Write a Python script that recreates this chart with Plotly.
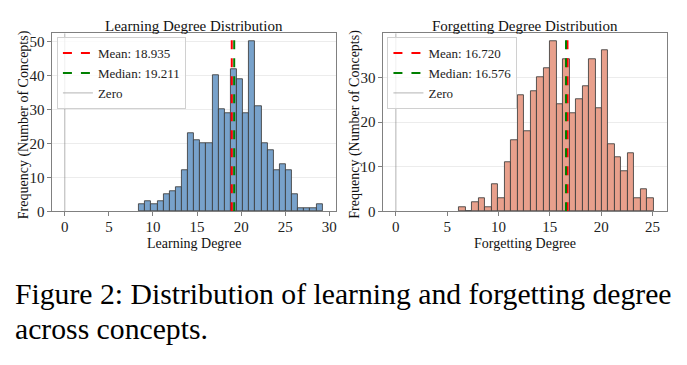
import numpy as np
import plotly.graph_objects as go

# ---------------- data ----------------
learn_counts = [2, 3, 2, 3, 5, 6, 7, 12, 23, 21, 20, 20, 40, 30, 29, 42, 39, 29, 50, 31,
                20, 18, 12, 14, 12, 5, 1, 1, 1, 2]
learn_range = [8.43, 29.24]
learn_mean = 18.935
learn_median = 19.211

forget_counts = [1, 0, 2, 3, 1, 6, 3, 11, 16, 26, 18, 27, 30, 32, 38, 24, 34, 22, 25, 28,
                 34, 23, 36, 15, 12, 9, 13, 3, 5, 3]
forget_range = [6.18, 25.13]
forget_mean = 16.720
forget_median = 16.576

learn_xticks = [0, 5, 10, 15, 20, 25, 30]
learn_yticks = [0, 10, 20, 30, 40, 50]
forget_xticks = [0, 5, 10, 15, 20, 25]
forget_yticks = [0, 10, 20, 30]

W, H = 687, 365
SERIF = "Liberation Serif, Times New Roman, serif"

def bins(rng, counts):
    edges = np.linspace(rng[0], rng[1], len(counts) + 1)
    centers = (edges[:-1] + edges[1:]) / 2
    width = edges[1] - edges[0]
    return centers, width

fig = go.Figure()

panels = [
    dict(counts=learn_counts, rng=learn_range, mean=learn_mean, median=learn_median,
         color="#78A2CB", xa="x", ya="y", legend="legend",
         xticks=learn_xticks, yticks=learn_yticks,
         xrange=[-1.46, 30.70], yrange=[0, 52.5],
         dom=[52 / W, 336 / W], title="Learning Degree Distribution", xtitle="Learning Degree"),
    dict(counts=forget_counts, rng=forget_range, mean=forget_mean, median=forget_median,
         color="#E8A08C", xa="x2", ya="y2", legend="legend2",
         xticks=forget_xticks, yticks=forget_yticks,
         xrange=[-1.26, 26.39], yrange=[0, 39.9],
         dom=[383.5 / W, 667.7 / W], title="Forgetting Degree Distribution", xtitle="Forgetting Degree"),
]

ydom = [1 - 216 / H, 1 - 34 / H]

annotations = []
for i, p in enumerate(panels):
    centers, width = bins(p["rng"], p["counts"])
    fig.add_trace(go.Bar(x=centers, y=p["counts"], width=width,
                         marker=dict(color=p["color"], line=dict(color="rgba(60,60,60,0.85)", width=1)),
                         xaxis=p["xa"], yaxis=p["ya"], showlegend=False))
    ytop = p["yrange"][1]
    fig.add_trace(go.Scatter(x=[p["mean"], p["mean"]], y=[0, ytop], mode="lines",
                             line=dict(color="red", width=2, dash="dash"),
                             name=f"Mean: {p['mean']:.3f}", xaxis=p["xa"], yaxis=p["ya"],
                             legend=p["legend"]))
    fig.add_trace(go.Scatter(x=[p["median"], p["median"]], y=[0, ytop], mode="lines",
                             line=dict(color="green", width=2, dash="dash"),
                             name=f"Median: {p['median']:.3f}", xaxis=p["xa"], yaxis=p["ya"],
                             legend=p["legend"]))
    fig.add_trace(go.Scatter(x=[0, 0], y=[0, ytop], mode="lines",
                             line=dict(color="rgba(128,128,128,0.6)", width=1),
                             name="Zero", xaxis=p["xa"], yaxis=p["ya"], legend=p["legend"]))

    sfx = "" if i == 0 else "2"
    axcommon = dict(showline=True, linecolor="#808080", linewidth=1, mirror=True,
                    ticks="outside", ticklen=3.5, tickcolor="#808080",
                    tickfont=dict(family=SERIF, size=15, color="#222"), zeroline=False)
    fig.update_layout(**{
        "xaxis" + sfx: dict(domain=p["dom"], range=p["xrange"], tickvals=p["xticks"],
                            showgrid=False, anchor="y" + sfx, ticklabelstandoff=-2, **axcommon),
        "yaxis" + sfx: dict(domain=ydom, range=p["yrange"], tickvals=p["yticks"],
                            showgrid=True, gridcolor="#ececec", gridwidth=1,
                            anchor="x" + sfx, **axcommon),
    })
    cx = (p["dom"][0] + p["dom"][1]) / 2
    annotations.append(dict(text=p["title"], x=cx, y=1 - 27 / H, xref="paper", yref="paper",
                            showarrow=False, font=dict(family=SERIF, size=15, color="#111"),
                            xanchor="center", yanchor="middle"))
    annotations.append(dict(text=p["xtitle"], x=cx, y=1 - 249 / H, xref="paper", yref="paper",
                            showarrow=False, font=dict(family=SERIF, size=14, color="#111"),
                            xanchor="center", yanchor="middle"))
    ylx = (24 if i == 0 else 356) / W
    annotations.append(dict(text="Frequency (Number of Concepts)", x=ylx, y=1 - 127 / H,
                            xref="paper", yref="paper", showarrow=False, textangle=-90,
                            font=dict(family=SERIF, size=14, color="#111"),
                            xanchor="center", yanchor="middle"))

annotations.append(dict(text="Figure 2: Distribution of learning and forgetting degree",
                        x=13 / W, y=1 - 301 / H, xref="paper", yref="paper", showarrow=False,
                        xanchor="left", yanchor="middle",
                        font=dict(family=SERIF, size=29.7, color="#000")))
annotations.append(dict(text="across concepts.",
                        x=13 / W, y=1 - 336 / H, xref="paper", yref="paper", showarrow=False,
                        xanchor="left", yanchor="middle",
                        font=dict(family=SERIF, size=29.7, color="#000")))

legcommon = dict(font=dict(family=SERIF, size=13, color="#222"), bgcolor="rgba(255,255,255,0.8)",
                 bordercolor="#d0d0d0", borderwidth=1, xanchor="left", yanchor="top",
                 itemwidth=30, tracegroupgap=0)
fig.update_layout(
    width=W, height=H, margin=dict(l=0, r=0, t=0, b=0),
    paper_bgcolor="white", plot_bgcolor="white",
    bargap=0, showlegend=True,
    legend=dict(x=57 / W, y=1 - 38 / H, **legcommon),
    legend2=dict(x=388 / W, y=1 - 38 / H, **legcommon),
    annotations=annotations,
)

fig.write_html("out.html")
